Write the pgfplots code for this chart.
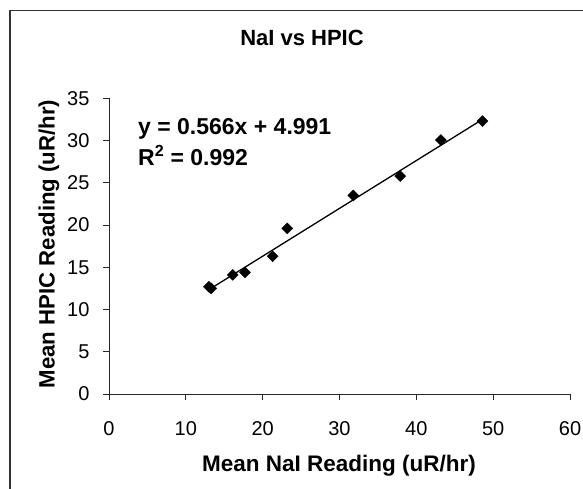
\documentclass[border=0pt]{standalone}
\usepackage{pgfplots}
\pgfplotsset{compat=1.18}
\usepackage{fontspec}
\setmainfont{Liberation Sans}
\begin{document}
\begin{tikzpicture}[x=1pt,y=1pt]
\useasboundingbox (0,0) rectangle (583,488);
\draw[line width=1.6pt, black!80] (10,-20) -- (10,477.5) -- (600,477.5);
\begin{axis}[
  scale only axis,
  at={(109pt,94pt)}, anchor=origin,
  width=461pt, height=295.7pt,
  xmin=0, xmax=60, ymin=0, ymax=35,
  axis lines*=left,
  axis line style={line width=1pt, black!85},
  xtick={0,10,...,60}, ytick={0,5,...,35},
  tick style={line width=0.8pt, black!85},
  tick align=outside,
  major tick length=6pt,
  /pgf/number format/assume math mode=true,
  ticklabel style={font=\fontsize{20}{22}\selectfont},
  xticklabel style={yshift=-18pt},
  yticklabel style={xshift=-10pt},
  clip=false,
]
\addplot[black, line width=1.3pt, no marks] coordinates {(12.9,12.292) (48.6,32.499)};
\addplot[only marks, mark=square*, mark size=3.9pt, mark options={rotate=45}, black] coordinates {
(13.0,12.7) (13.3,12.5) (16.1,14.1) (17.7,14.4) (21.3,16.3) (23.2,19.6)
(31.8,23.5) (37.9,25.8) (43.2,30.06) (48.6,32.3)};
\end{axis}
\node[font=\bfseries\fontsize{22}{24}\selectfont, anchor=base] at (302,442) {NaI vs HPIC};
\node[font=\bfseries\fontsize{22.5}{24}\selectfont, anchor=base] at (339,17) {Mean NaI Reading (uR/hr)};
\node[font=\bfseries\fontsize{22.2}{24}\selectfont, rotate=90, anchor=base] at (54.5,244) {Mean HPIC Reading (uR/hr)};
\node[font=\bfseries\fontsize{23}{24}\selectfont, anchor=base west, inner sep=0pt] at (138,353.7) {y = 0.566x + 4.991};
\node[font=\bfseries\fontsize{23}{24}\selectfont, anchor=base west, inner sep=0pt] at (138,322) {R\textsuperscript{2} = 0.992};
\end{tikzpicture}
\end{document}
